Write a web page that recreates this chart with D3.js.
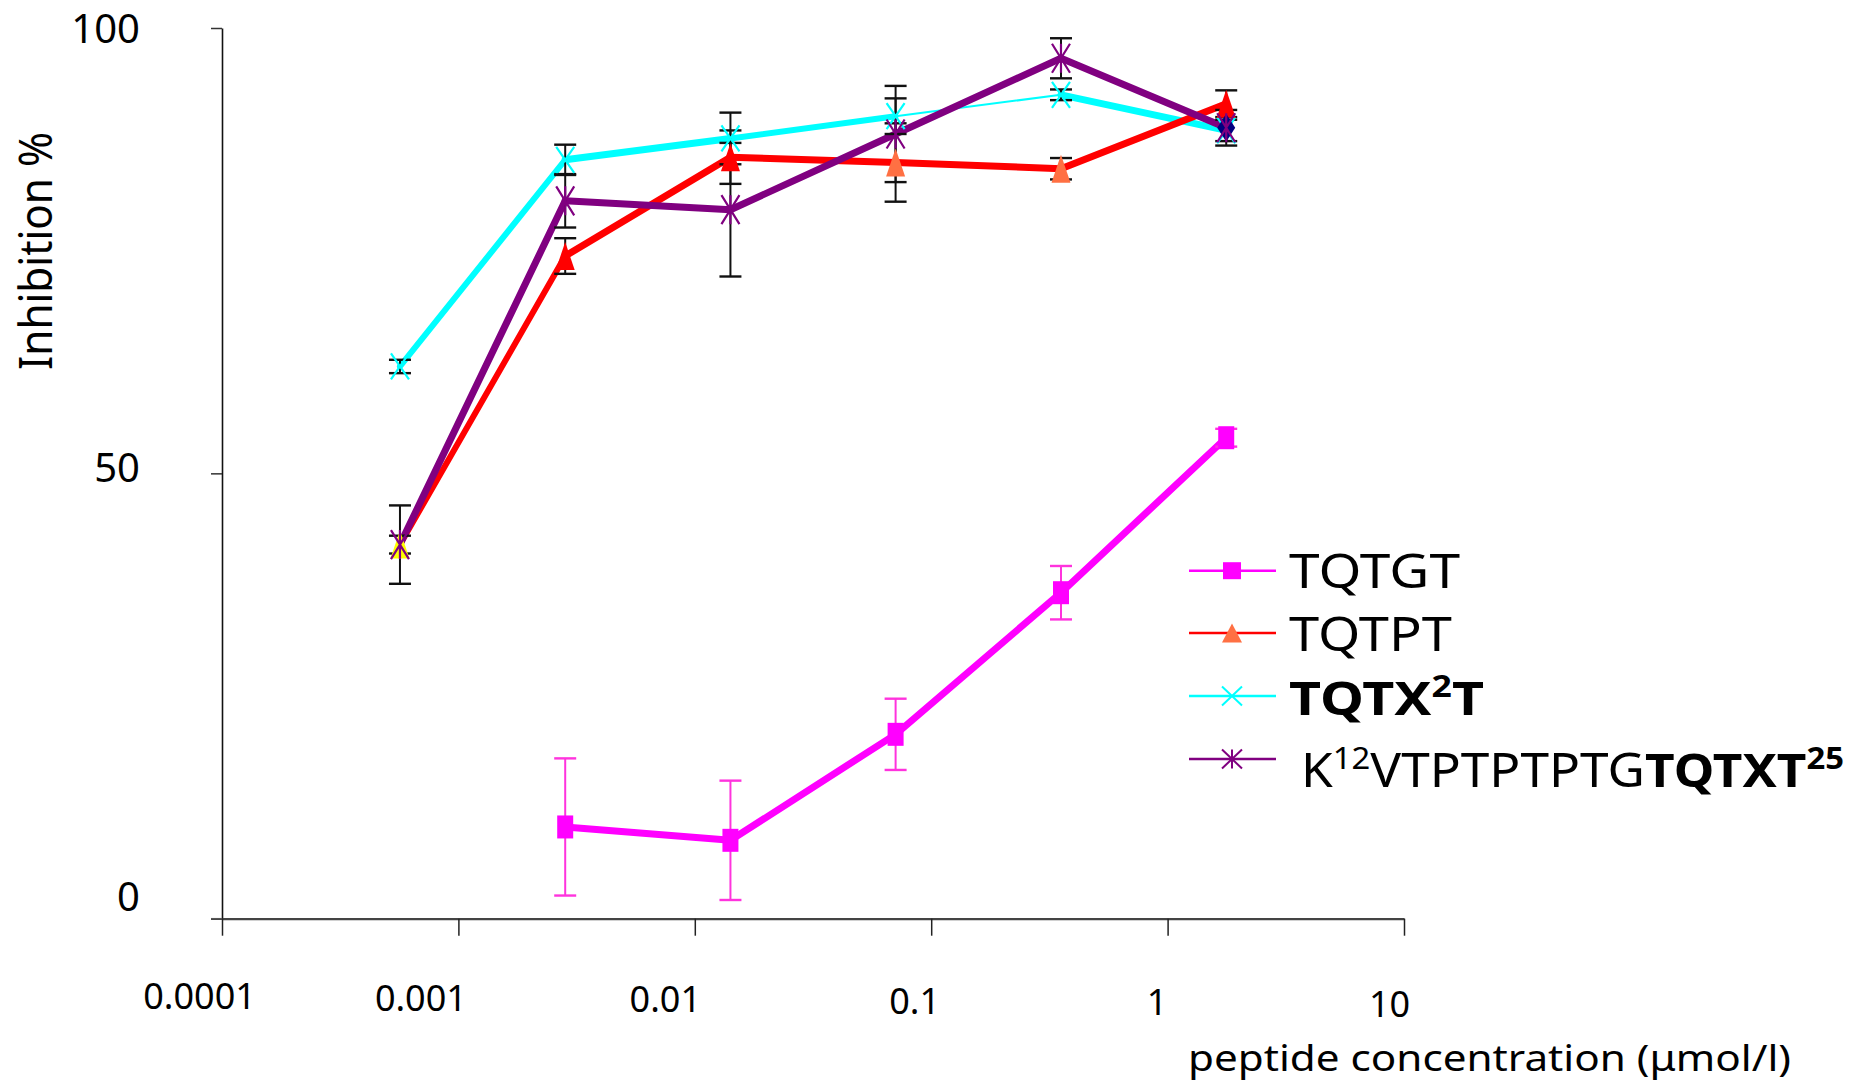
<!DOCTYPE html>
<html><head><meta charset="utf-8">
<script src="https://cdn.jsdelivr.net/npm/d3@7"></script>
<style>body{margin:0;background:#fff} svg{display:block}</style>
</head><body>
<svg id="chart" width="1866" height="1084"></svg>
<script>
// ---------- data ----------
const concentrations = [0.000566, 0.00283, 0.01415, 0.0707, 0.354, 1.77];
const tqtgtMean  = [null, 10.3, 8.8, 20.7, 36.6, 54.0];
const tqtgtSD    = [null, 7.7, 6.7, 4.0, 3.0, 1.0];
const tqtptMean  = [42.0, 74.4, 85.5, 84.9, 84.2, 91.5];
const tqtptSD    = [1.0, 2.0, 3.0, 4.4, 1.2, 1.5];
const tqtx2tMean = [62.0, 85.2, 87.6, 90.1, 92.5, 88.5];
const tqtx2tSD   = [0.75, 1.7, 2.9, 2.0, 0.6, 1.2];
const k12Mean    = [42.0, 80.6, 79.6, 88.1, 96.6, 88.8];
const k12SD      = [4.4, 3.0, 7.5, 5.4, 2.25, 2.0];
const xTickValues = [0.0001, 0.001, 0.01, 0.1, 1, 10];
const xTickLabels = ["0.0001", "0.001", "0.01", "0.1", "1", "10"];
const yTickValues = [0, 50, 100];
const yTickLabels = ["0", "50", "100"];
const xTitle = "peptide concentration (\u03bcmol/l)";
const yTitle = "Inhibition %";
// legend label parts: [text, bold, superscript]
const legendLabels = [
  [["TQTGT", false, false]],
  [["TQTPT", false, false]],
  [["TQTX", true, false], ["2", true, true], ["T", true, false]],
  [["K", false, false], ["12", false, true], ["VTPTPTPTG", false, false], ["TQTXT", true, false], ["25", true, true]]
];

// ---------- styles ----------
const FONT = "'Noto Sans', 'DejaVu Sans', sans-serif";
const series = [
  {name: "TQTGT", mean: tqtgtMean, sd: tqtgtSD, color: "#ff00ff", errColor: "#ff33dd",
   widths: [7,7,7,7,7], marker: "square", markerColors: Array(6).fill("#ff00ff"), legendMarkerColor: "#ff00ff"},
  {name: "TQTX2T", mean: tqtx2tMean, sd: tqtx2tSD, color: "#00ffff", errColor: "#111",
   widths: [6,7,6,2,7], marker: "x", markerColors: Array(6).fill("#00ffff"), legendMarkerColor: "#00ffff"},
  {name: "TQTPT", mean: tqtptMean, sd: tqtptSD, color: "#ff0000", errColor: "#111",
   widths: [6,7,7,7,7], marker: "triangle",
   markerColors: ["#ffff00", "#ff0000", "#ff0000", "#ff7043", "#ff7043", "#ff0000"], legendMarkerColor: "#ff7043"},
  {name: "K12", mean: k12Mean, sd: k12SD, color: "#800080", errColor: "#111",
   widths: [7,7,7,7,7], marker: "asterisk", markerColors: Array(6).fill("#800080"), legendMarkerColor: "#800080",
   extraDiamondAt: 5}
];
const legendOrder = ["TQTGT", "TQTPT", "TQTX2T", "K12"];

const svg = d3.select("#chart");
const x = d3.scaleLog().domain([1e-4, 10]).range([222, 1404]);
const y = d3.scaleLinear().domain([0, 100]).range([918.7, 28]);

// ---------- axes ----------
const yLabelDy = {0: -21, 50: -5, 100: 2};
const yAxis = svg.append("g").attr("transform", `translate(${x.range()[0]},0)`)
  .call(d3.axisLeft(y).tickValues(yTickValues).tickFormat((d,i)=>yTickLabels[i])
        .tickSize(11).tickSizeOuter(0).tickPadding(71));
yAxis.select(".domain").attr("stroke", "#111").attr("stroke-width", 1.6);
yAxis.selectAll(".tick line").attr("stroke", "#333").attr("stroke-width", 1.5);
yAxis.selectAll(".tick text").attr("font-family", FONT).attr("font-size", 40).attr("fill", "#000")
  .attr("transform", d => `translate(0,${yLabelDy[d]})`);

const xLabelDx = [-23, -38, -30, -17, -11, -15];
const xAxis = svg.append("g").attr("transform", `translate(0,${y(0)})`)
  .call(d3.axisBottom(x).tickValues(xTickValues).tickFormat((d,i)=>xTickLabels[i])
        .tickSize(17).tickSizeOuter(0).tickPadding(48));
xAxis.select(".domain").attr("stroke", "#444").attr("stroke-width", 2.2);
xAxis.selectAll(".tick line").attr("stroke", "#222").attr("stroke-width", 1.5);
xAxis.selectAll(".tick text").attr("font-family", FONT).attr("font-size", 36).attr("fill", "#000")
  .attr("transform", (d,i) => `translate(${xLabelDx[i]},${i*1.5})`);
svg.append("line").attr("x1", x.range()[0]-11).attr("x2", x.range()[0]).attr("y1", y(0)).attr("y2", y(0))
  .attr("stroke", "#555").attr("stroke-width", 1.5);

// titles
svg.append("text").attr("transform", `translate(52,251) rotate(-90)`).attr("text-anchor", "middle")
  .attr("font-family", FONT).attr("font-size", 46).attr("textLength", 238).attr("lengthAdjust", "spacingAndGlyphs")
  .text(yTitle);
svg.append("text").attr("x", 1188).attr("y", 1071).attr("font-family", FONT).attr("font-size", 37)
  .attr("textLength", 603).attr("lengthAdjust", "spacingAndGlyphs").text(xTitle);

// ---------- marker shapes ----------
function markerPath(type, w, h) {
  const a = w/2, b = h/2;
  switch (type) {
    case "square": return `M${-a},${-b}H${a}V${b}H${-a}Z`;
    case "triangle": return `M0,${-b}L${a},${b}L${-a},${b}Z`;
    case "diamond": return `M0,${-b}L${a},0L0,${b}L${-a},0Z`;
    case "x": return `M${-a},${-b}L${a},${b}M${a},${-b}L${-a},${b}`;
    case "asterisk": return `M${-a},${-b}L${a},${b}M${a},${-b}L${-a},${b}M0,${-b}V${b}`;
  }
}
const markerSize = {square: [16, 23], triangle: [19, 28], x: [18, 26], asterisk: [18, 29], diamond: [18, 28]};
const filled = t => t === "square" || t === "triangle" || t === "diamond";

// ---------- lines ----------
const gLines = svg.append("g");
series.forEach(s => {
  const pts = concentrations.map((c,i) => ({c, v: s.mean[i], i})).filter(p => p.v != null);
  for (let k = 0; k < pts.length - 1; k++) {
    const p0 = pts[k], p1 = pts[k+1];
    gLines.append("line")
      .attr("x1", x(p0.c)).attr("y1", y(p0.v)).attr("x2", x(p1.c)).attr("y2", y(p1.v))
      .attr("stroke", s.color).attr("stroke-width", s.widths[p0.i] || 7).attr("stroke-linecap", "round");
  }
});

// ---------- error bars ----------
const gErr = svg.append("g");
series.forEach(s => {
  concentrations.forEach((c,i) => {
    const m = s.mean[i], e = s.sd[i];
    if (m == null || e == null) return;
    const cx = x(c), cap = 11;
    gErr.append("line").attr("x1", cx).attr("x2", cx).attr("y1", y(m+e)).attr("y2", y(m-e))
      .attr("stroke", s.errColor).attr("stroke-width", 2);
    [m+e, m-e].forEach(v => gErr.append("line").attr("x1", cx-cap).attr("x2", cx+cap)
      .attr("y1", y(v)).attr("y2", y(v)).attr("stroke", s.errColor).attr("stroke-width", 2.4));
  });
});

// ---------- markers ----------
const gMk = svg.append("g");
series.forEach(s => {
  concentrations.forEach((c,i) => {
    const m = s.mean[i];
    if (m == null) return;
    const tr = `translate(${x(c)},${y(m)})`;
    if (s.extraDiamondAt === i) {
      const [dw, dh] = markerSize.diamond;
      gMk.append("path").attr("d", markerPath("diamond", dw, dh)).attr("transform", tr).attr("fill", "#000080");
    }
    const [w, h] = markerSize[s.marker];
    const p = gMk.append("path").attr("d", markerPath(s.marker, w, h)).attr("transform", tr);
    if (filled(s.marker)) p.attr("fill", s.markerColors[i]);
    else p.attr("fill", "none").attr("stroke", s.markerColors[i]).attr("stroke-width", 2.2);
  });
});

// ---------- legend ----------
const legendRowY = [570.7, 633, 696, 759];
const legendBaseY = [588, 651, 715, 787];
const legendTextX = [1289, 1289, 1289, 1301];
const legendTextLen = [171, 163, 195, 543];
const legendMarkerSize = {square: [18, 17], triangle: [20, 19], x: [20, 19], asterisk: [20, 19]};
const gLeg = svg.append("g");
legendOrder.forEach((nm, r) => {
  const s = series.find(d => d.name === nm);
  gLeg.append("line").attr("x1", 1189).attr("x2", 1276).attr("y1", legendRowY[r]).attr("y2", legendRowY[r])
    .attr("stroke", s.color).attr("stroke-width", 2.6);
  const [w, h] = legendMarkerSize[s.marker];
  const p = gLeg.append("path").attr("d", markerPath(s.marker, w, h))
    .attr("transform", `translate(1232,${legendRowY[r]})`);
  if (filled(s.marker)) p.attr("fill", s.legendMarkerColor);
  else p.attr("fill", "none").attr("stroke", s.legendMarkerColor).attr("stroke-width", 2);
  const t = gLeg.append("text").attr("x", legendTextX[r]).attr("y", legendBaseY[r])
    .attr("font-family", FONT).attr("font-size", 47)
    .attr("textLength", legendTextLen[r]).attr("lengthAdjust", "spacingAndGlyphs");
  const parts = legendLabels[r];
  parts.forEach(([txt, bold, sup], k) => {
    const ts = t.append("tspan").text(txt).attr("font-weight", bold ? "bold" : "normal");
    if (sup) ts.attr("font-size", 30).attr("dy", -18);
    else if (k > 0 && parts[k-1][2]) ts.attr("dy", 18);
  });
});
</script>
</body></html>
